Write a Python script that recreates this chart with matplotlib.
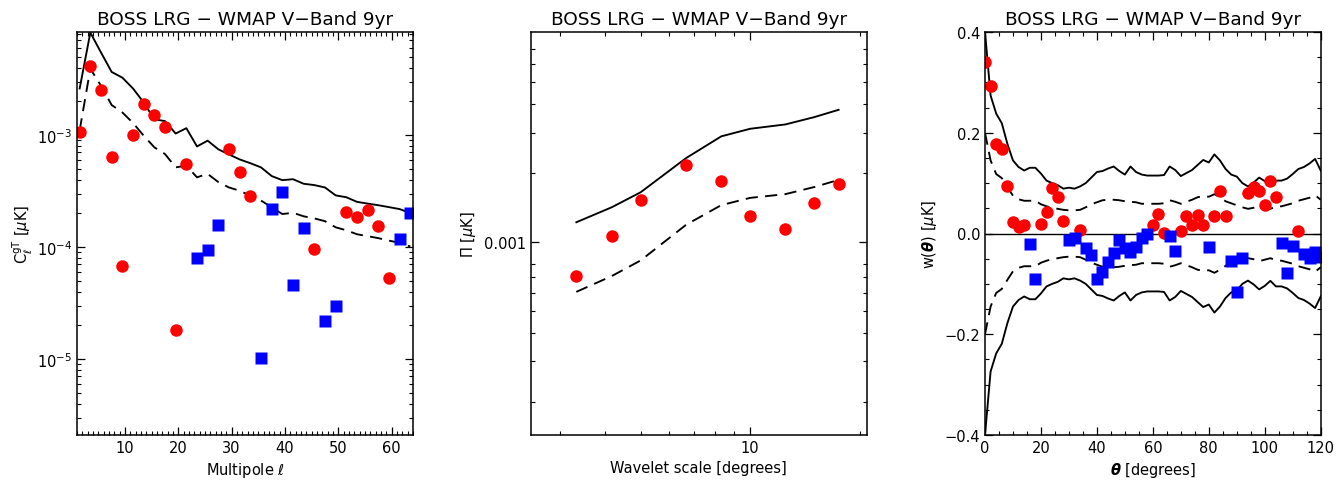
import matplotlib
matplotlib.use("Agg")
import matplotlib.pyplot as plt
from matplotlib.ticker import (LogLocator, NullFormatter, FixedLocator,
                               MultipleLocator, FuncFormatter)
import numpy as np

TITLE = "BOSS LRG \u2212 WMAP V\u2212Band 9yr"

# ---------------- Panel 1: angular cross power spectrum ----------------
ell = [1.5, 3.5, 5.5, 7.5, 9.5, 11.5, 13.5, 15.5, 17.5, 19.5, 21.5, 23.5, 25.5,
       27.5, 29.5, 31.5, 33.5, 35.5, 37.5, 39.5, 41.5, 43.5, 45.5, 47.5, 49.5,
       51.5, 53.5, 55.5, 57.5, 59.5, 61.5, 63.5]
cl_gT = [1.07e-3, 4.16e-3, 2.54e-3, 6.4e-4, 6.8e-5, 1.0e-3, 1.9e-3, 1.5e-3,
         1.17e-3, 1.8e-5, 5.55e-4, -7.98e-5, -9.4e-5, -1.58e-4, 7.5e-4, 4.7e-4,
         2.83e-4, -1.03e-5, -2.17e-4, -3.08e-4, -4.58e-5, -1.47e-4, 9.67e-5,
         -2.17e-5, -2.95e-5, 2.04e-4, 1.84e-4, 2.14e-4, 1.54e-4, 5.25e-5,
         -1.18e-4, -2.03e-4]
cl_2sig = [2.6e-3, 8.2e-3, 5.45e-3, 3.65e-3, 3.25e-3, 2.6e-3, 1.95e-3, 1.38e-3,
           1.33e-3, 1.03e-3, 1.15e-3, 7.9e-4, 8.9e-4, 7.45e-4, 6.7e-4, 6.05e-4,
           5.6e-4, 5.14e-4, 4.3e-4, 3.95e-4, 4.03e-4, 3.67e-4, 3.57e-4, 3.4e-4,
           2.89e-4, 2.78e-4, 2.53e-4, 2.44e-4, 2.36e-4, 2.27e-4, 2.18e-4, 2.01e-4]
cl_1sig = [1.1e-3, 3.9e-3, 2.75e-3, 1.85e-3, 1.59e-3, 1.28e-3, 9.86e-4, 7.76e-4,
           6.76e-4, 5.14e-4, 5.32e-4, 4.19e-4, 4.49e-4, 3.8e-4, 3.4e-4, 3.18e-4,
           2.87e-4, 2.6e-4, 2.26e-4, 1.97e-4, 2.02e-4, 1.88e-4, 1.8e-4, 1.7e-4,
           1.5e-4, 1.41e-4, 1.3e-4, 1.25e-4, 1.2e-4, 1.14e-4, 1.09e-4, 1.01e-4]

# ---------------- Panel 2: wavelet statistic ----------------
wav_scale = [3.33, 4.17, 5.0, 6.67, 8.33, 10.0, 12.5, 15.0, 17.5]
wav_pi = [7.1e-4, 1.06e-3, 1.53e-3, 2.17e-3, 1.84e-3, 1.30e-3, 1.14e-3, 1.48e-3, 1.80e-3]
wav_2sig = [1.22e-3, 1.42e-3, 1.65e-3, 2.33e-3, 2.9e-3, 3.13e-3, 3.27e-3, 3.52e-3, 3.79e-3]
wav_1sig = [6.05e-4, 7.1e-4, 8.3e-4, 1.19e-3, 1.45e-3, 1.56e-3, 1.62e-3, 1.74e-3, 1.87e-3]

# ---------------- Panel 3: correlation function ----------------
theta = [0, 2, 4, 6, 8, 10, 12, 14, 16, 18, 20, 22, 24, 26, 28, 30, 32, 34, 36,
         38, 40, 42, 44, 46, 48, 50, 52, 54, 56, 58, 60, 62, 64, 66, 68, 70, 72,
         74, 76, 78, 80, 82, 84, 86, 88, 90, 92, 94, 96, 98, 100, 102, 104, 106,
         108, 110, 112, 114, 116, 118, 120]
w_theta = [0.340, 0.292, 0.178, 0.168, 0.094, 0.0225, 0.012, 0.016, -0.0205, -0.091,
           0.0185, 0.042, 0.091, 0.0715, 0.024, -0.013, -0.009, 0.0066, -0.029, -0.042,
           -0.091, -0.077, -0.057, -0.039, -0.012, -0.028, -0.036, -0.026, -0.009, -0.001,
           0.017, 0.039, 0.001, -0.004, -0.035, 0.004, 0.034, 0.016, 0.036, 0.016,
           -0.027, 0.034, 0.084, 0.034, -0.055, -0.1166, -0.048, 0.081, 0.092, 0.085,
           0.056, 0.104, 0.0715, -0.019, -0.078, -0.025, 0.0053, -0.041, -0.048, -0.036,
           -0.046]
w_2sig = [0.400, 0.274, 0.238, 0.219, 0.178, 0.145, 0.132, 0.125, 0.1305, 0.1305,
          0.119, 0.105, 0.100, 0.096, 0.089, 0.091, 0.089, 0.0935, 0.100, 0.111,
          0.122, 0.124, 0.129, 0.133, 0.124, 0.117, 0.133, 0.122, 0.117, 0.115,
          0.115, 0.115, 0.116, 0.133, 0.126, 0.114, 0.120, 0.126, 0.136, 0.146,
          0.141, 0.157, 0.145, 0.128, 0.117, 0.113, 0.100, 0.0935, 0.101, 0.111,
          0.104, 0.094, 0.105, 0.105, 0.109, 0.118, 0.128, 0.132, 0.139, 0.148,
          0.125]
w_1sig = [0.200, 0.145, 0.118, 0.110, 0.092, 0.075, 0.068, 0.065, 0.065, 0.065,
          0.058, 0.054, 0.051, 0.049, 0.047, 0.046, 0.046, 0.047, 0.052, 0.058,
          0.062, 0.066, 0.067, 0.067, 0.066, 0.064, 0.063, 0.062, 0.059, 0.059,
          0.059, 0.059, 0.060, 0.066, 0.063, 0.059, 0.063, 0.067, 0.072, 0.074,
          0.073, 0.078, 0.072, 0.064, 0.060, 0.056, 0.052, 0.049, 0.051, 0.055,
          0.052, 0.049, 0.053, 0.054, 0.057, 0.060, 0.065, 0.068, 0.071, 0.076,
          0.067]

RED = "#ff0000"
BLUE = "#0000ff"
LW = 1.35
DASH = (6.5, 3.9)
CIRC_MS = 9.0
SQ_MS = 8.0

plt.rcParams.update({
    "font.family": ["DejaVu Sans"],
    "font.size": 10.5,
    "axes.linewidth": 1.1,
    "xtick.direction": "in",
    "ytick.direction": "in",
    "xtick.top": True,
    "ytick.right": True,
    "xtick.major.size": 6,
    "ytick.major.size": 6,
    "xtick.minor.size": 3,
    "ytick.minor.size": 3,
    "xtick.major.width": 0.9,
    "ytick.major.width": 0.9,
    "xtick.minor.width": 0.8,
    "ytick.minor.width": 0.8,
    "mathtext.fontset": "dejavusans",
})

# pick a bold-italic theta that this matplotlib's mathtext supports
BTH = r"$\mathbf{\theta}$"
for cand in (r"$\mathbfit{\theta}$", r"$\boldsymbol{\theta}$"):
    try:
        _f = plt.figure(figsize=(1, 1))
        _f.text(0.5, 0.5, cand)
        _f.canvas.draw()
        plt.close(_f)
        BTH = cand
        break
    except Exception:
        plt.close("all")

fig = plt.figure(figsize=(13.41, 4.81), dpi=100)
H = 481.0
W = 1341.0
bottom = 1 - 436 / H
height = (436 - 33) / H
ax1 = fig.add_axes([77 / W, bottom, (413 - 77) / W, height])
ax2 = fig.add_axes([531 / W, bottom, (866.7 - 531) / W, height])
ax3 = fig.add_axes([985 / W, bottom, (1320.7 - 985) / W, height])

title_kw = dict(fontsize=13.3, pad=6)

# ---- Panel 1
ell_a = np.array(ell)
cl_a = np.array(cl_gT)
pos = cl_a > 0
ax1.plot(ell, cl_2sig, color="black", lw=LW)
ax1.plot(ell, cl_1sig, color="black", lw=LW, dashes=DASH)
ax1.plot(ell_a[pos], cl_a[pos], "o", color=RED, ms=CIRC_MS, mec="none")
ax1.plot(ell_a[~pos], -cl_a[~pos], "s", color=BLUE, ms=SQ_MS, mec="none")
ax1.set_yscale("log")
ax1.set_xlim(1, 64)
ax1.set_ylim(2.1e-6, 8.3e-3)
ax1.xaxis.set_major_locator(MultipleLocator(10))
ax1.xaxis.set_minor_locator(MultipleLocator(1))
ax1.yaxis.set_major_locator(LogLocator(base=10, numticks=10))
ax1.yaxis.set_minor_locator(LogLocator(base=10, subs=np.arange(2, 10), numticks=20))
ax1.yaxis.set_minor_formatter(NullFormatter())
ax1.set_xlabel(r"Multipole $\ell$")
ax1.set_ylabel(r"C$_{\ell}^{\rm gT}$ [$\mu$K]", labelpad=1)
ax1.set_title(TITLE, **title_kw)

# ---- Panel 2
ax2.plot(wav_scale, wav_2sig, color="black", lw=LW)
ax2.plot(wav_scale, wav_1sig, color="black", lw=LW, dashes=DASH)
ax2.plot(wav_scale, wav_pi, "o", color=RED, ms=CIRC_MS, mec="none")
ax2.set_xscale("log")
ax2.set_yscale("log")
ax2.set_xlim(2.5, 20.9)
ax2.set_ylim(1.43e-4, 8.3e-3)
ax2.xaxis.set_major_locator(FixedLocator([10]))
ax2.xaxis.set_major_formatter(FuncFormatter(lambda v, p: "10"))
ax2.xaxis.set_minor_locator(FixedLocator([3, 4, 5, 6, 7, 8, 9, 20]))
ax2.xaxis.set_minor_formatter(NullFormatter())
ax2.yaxis.set_major_locator(FixedLocator([1e-3]))
ax2.yaxis.set_major_formatter(FuncFormatter(lambda v, p: "0.001"))
ax2.yaxis.set_minor_locator(FixedLocator([2e-4, 3e-4, 4e-4, 5e-4, 6e-4, 7e-4, 8e-4,
                                          2e-3, 3e-3, 4e-3, 5e-3, 6e-3, 7e-3]))
ax2.yaxis.set_minor_formatter(NullFormatter())
ax2.set_xlabel("Wavelet scale [degrees]")
ax2.set_ylabel(r"$\Pi$ [$\mu$K]")
ax2.set_title(TITLE, **title_kw)

# ---- Panel 3
th = np.array(theta)
wa = np.array(w_theta)
s2 = np.array(w_2sig)
s1 = np.array(w_1sig)
ax3.axhline(0, color="black", lw=1.0)
ax3.plot(th, s2, color="black", lw=LW)
ax3.plot(th, -s2, color="black", lw=LW)
ax3.plot(th, s1, color="black", lw=LW, dashes=DASH)
ax3.plot(th, -s1, color="black", lw=LW, dashes=DASH)
pos3 = wa > 0
ax3.plot(th[pos3], wa[pos3], "o", color=RED, ms=CIRC_MS, mec="none")
ax3.plot(th[~pos3], wa[~pos3], "s", color=BLUE, ms=SQ_MS, mec="none")
ax3.set_xlim(0, 120)
ax3.set_ylim(-0.4, 0.4)
ax3.xaxis.set_major_locator(MultipleLocator(20))
ax3.xaxis.set_minor_locator(MultipleLocator(5))
ax3.yaxis.set_major_locator(MultipleLocator(0.2))
ax3.yaxis.set_minor_locator(MultipleLocator(0.05))
ax3.yaxis.set_major_formatter(FuncFormatter(lambda v, p: ("%.1f" % v).replace("-", "\u2212")))
ax3.set_xlabel(BTH + " [degrees]")
ax3.set_ylabel("w(" + BTH + r") [$\mu$K]")
ax3.set_title(TITLE, **title_kw)

fig.savefig("out.png", dpi=100)
